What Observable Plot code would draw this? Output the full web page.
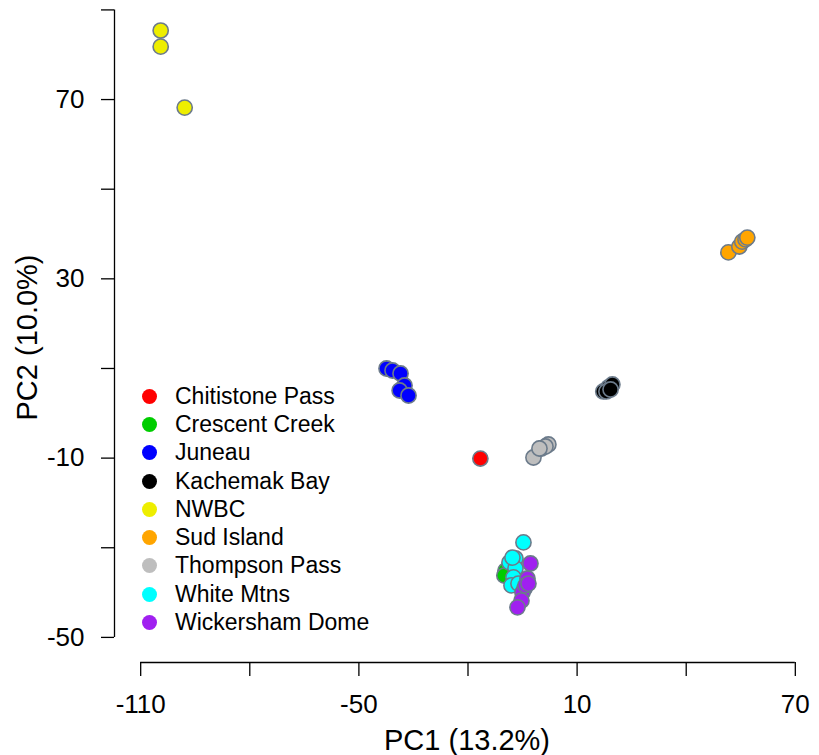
<!DOCTYPE html>
<html>
<head>
<meta charset="utf-8">
<script src="https://cdn.jsdelivr.net/npm/d3@7"></script>
<script src="https://cdn.jsdelivr.net/npm/@observablehq/plot@0.6"></script>
<style>
  html, body { margin: 0; padding: 0; background: #fff; }
  #wrap { position: relative; width: 819px; height: 755px; font-family: "Liberation Sans", Arial, sans-serif; }
  #legend { position: absolute; left: 142px; top: 382px; }
  .row { display: flex; align-items: center; height: 28.3px; font-size: 23px; color: #000; white-space: nowrap; }
  .sw { width: 15px; height: 15px; border-radius: 50%; margin-right: 18px; flex: none; }
</style>
</head>
<body>
<div id="wrap"><div id="legend"></div></div>
<script>
// Sites (legend order) and colours
const sites = ["Chitistone Pass", "Crescent Creek", "Juneau", "Kachemak Bay", "NWBC", "Sud Island", "Thompson Pass", "White Mtns", "Wickersham Dome"];
const colors = ["#FF0000", "#00CD00", "#0000FF", "#000000", "#EEEE00", "#FFA500", "#BEBEBE", "#00FFFF", "#A020F0"];

// PC scores per site
const chitistonePC1 = [-16.6];
const chitistonePC2 = [-10.1];
const crescentPC1 = [-9.7, -10.0];
const crescentPC2 = [-35.1, -36.2];
const juneauPC1 = [-42.4, -40.75, -38.55, -37.45, -38.8, -36.35];
const juneauPC2 = [10.0, 9.55, 8.88, 6.2, 5.09, 3.97];
const kachemakPC1 = [17.2, 18.6, 19.7, 18.06, 19.2];
const kachemakPC2 = [4.87, 5.76, 6.43, 4.87, 5.31];
const nwbcPC1 = [-104.5, -104.5, -97.9];
const nwbcPC2 = [85.4, 81.8, 68.2];
const sudPC1 = [51.6, 54.6, 55.4, 56.3, 56.8];
const sudPC2 = [35.9, 37.2, 38.3, 38.8, 39.2];
const thompsonPC1 = [-2.0, 0.2, 2.1, 1.3, -0.35];
const thompsonPC2 = [-9.86, -7.85, -6.96, -7.4, -7.85];
const whitePC1 = [-4.75, -6.95, -8.6, -6.95, -7.5, -8.05, -6.13, -7.78];
const whitePC2 = [-28.8, -32.4, -33.3, -34.6, -36.6, -38.4, -38.0, -32.2];
const wickershamPC1 = [-2.83, -3.65, -4.48, -5.03, -5.3, -6.4, -4.2, -3.38];
const wickershamPC2 = [-33.5, -36.85, -39.1, -40.0, -41.8, -43.3, -38.4, -38.0];

// Axis ticks
const xTicks = [-110, -80, -50, -20, 10, 40, 70];
const xLabels = [-110, -50, 10, 70];
const yTicks = [-50, -30, -10, 10, 30, 50, 70, 90];
const yLabels = [-50, -10, 30, 70];
const xTitle = "PC1 (13.2%)";
const yTitle = "PC2 (10.0%)";

const pc1 = [chitistonePC1, crescentPC1, juneauPC1, kachemakPC1, nwbcPC1, sudPC1, thompsonPC1, whitePC1, wickershamPC1];
const pc2 = [chitistonePC2, crescentPC2, juneauPC2, kachemakPC2, nwbcPC2, sudPC2, thompsonPC2, whitePC2, wickershamPC2];
const points = sites.flatMap((s, i) => pc1[i].map((x, j) => ({site: s, x, y: pc2[i][j]})));

const xDomain = [-117.2, 76.65];
const yDomain = [-55.6, 92.1];

const chart = Plot.plot({
  width: 819,
  height: 755,
  marginLeft: 114,
  marginRight: 0,
  marginTop: 0,
  marginBottom: 93,
  style: {fontFamily: "'Liberation Sans', Arial, sans-serif", fontSize: "26px", background: "#fff", color: "#000"},
  x: {domain: xDomain},
  y: {domain: yDomain},
  color: {domain: sites, range: colors},
  marks: [
    // axis lines
    Plot.ruleY([yDomain[0]], {x1: d3.min(xTicks), x2: d3.max(xTicks), stroke: "#000", strokeWidth: 1.3}),
    Plot.ruleX([xDomain[0]], {y1: d3.min(yTicks), y2: d3.max(yTicks), stroke: "#000", strokeWidth: 1.3}),
    Plot.axisX({ticks: xTicks, tickSize: 14, tickPadding: 18, tickFormat: d => xLabels.includes(d) ? String(d) : "", label: null, strokeWidth: 1.3, fontSize: 26}),
    Plot.axisY({ticks: yTicks, tickSize: 13, tickPadding: 17, tickFormat: d => yLabels.includes(d) ? String(d) : "", label: null, strokeWidth: 1.3, fontSize: 26}),
    Plot.text([xTitle], {frameAnchor: "bottom", dy: 78, fontSize: 29, lineAnchor: "middle", fill: "#000"}),
    Plot.text([yTitle], {frameAnchor: "left", dx: -87, dy: 6, rotate: -90, fontSize: 29, textAnchor: "middle", lineAnchor: "middle", fill: "#000"}),
    Plot.dot(points, {x: "x", y: "y", r: 7.6, fill: "site", stroke: "#6C7B8B", strokeWidth: 1.6})
  ]
});
document.getElementById("wrap").prepend(chart);

const legend = document.getElementById("legend");
sites.forEach((s, i) => {
  const row = document.createElement("div");
  row.className = "row";
  const sw = document.createElement("span");
  sw.className = "sw";
  sw.style.background = colors[i];
  const t = document.createElement("span");
  t.textContent = s;
  row.append(sw, t);
  legend.append(row);
});
</script>
</body>
</html>
